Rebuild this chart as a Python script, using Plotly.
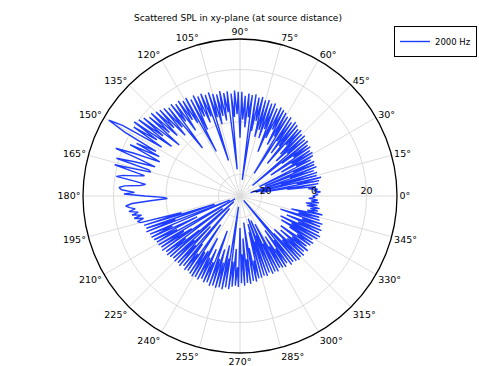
import plotly.graph_objects as go

# Angles in degrees (1 degree steps) and scattered SPL in dB
theta_deg = list(range(0, 361))

spl_0_14 = [-0.5, 1.5, 0.5, 2.5, 0.0, 1.5, -2, 1, -10, 2, -20, 2.5, -6, 3.5, -22]
spl_15_29 = [2, -12, 2.5, -24, 1.5, -8, 3, -18, 2.5, -6, 3, -20, 2, -4, 3.5]
spl_30_44 = [-10, 4, -5, 3.5, -14, 4.5, -3, 4, -8, 5, -22, 4.5, -4, 5.5, -9]
spl_45_59 = [5, -6, 6, -2, 5.5, -12, 6.5, -4, 7, -8, 6, -3, 7.5, -18, 7]
spl_60_74 = [-2, 8, -6, 8.5, 0, 9, -4, 8, -10, 9.5, -1, 9, -5, 10, -2]
spl_75_89 = [9.5, -5, 10.5, 1, 10, -3, 11, -22, 10.5, 2, 11, -2, 10, 1, 11.5]
spl_90_104 = [-6, 11.5, 3, 12, 2, 11, -18, 12, 4, 11.5, 1, 12.5, 3, 11.5, 0]
spl_105_119 = [12, 3, 13, -14, 12.5, 4, 13.5, 2, 13, 5, 14, 0, 13, -9, 14.5]
spl_120_134 = [4, 14, 6, 15, 2, 14.5, 7, 15.5, -5, 15, 6, 16, 3, 16.5, 8]
spl_135_149 = [17, 5, 18, 8, 17.5, 2, 19, 9, 20, 4, 21, 10, 20, 7, 24]
spl_150_164 = [29.5, 22, 8, 16, 6, 18, 10, 5, 15, 22.5, 12, 6, 14, 21, 8]
spl_165_179 = [7, 21, 14, 9, 12, 17, 19.5, 12, 8, 10, 16, 18, 17, 12, 16]
spl_180_194 = [8, 1, -0.5, 6, 13, 15.5, 14, 12, 14.5, 11, 13.5, 10, 13, 9.5, 12]
spl_195_209 = [11, -5, 10, -18, 9.5, -2, 10, -24, 9, 0, 9, -10, 8.5, -1, 8]
spl_210_224 = [-26, 8, -3, 7.5, -6, 8, -20, 7, -2, 7.5, -8, 7, -25, 6.5, -4]
spl_225_239 = [7, -12, 6.5, -3, 7, -22, 6, -5, 7, -1, 6.5, -15, 7, -3, 7.5]
spl_240_254 = [-4, 7, -10, 7.5, -2, 6.5, -6, 7.5, -1, 7, -14, 8, -3, 7.5, -7]
spl_255_269 = [8, -2, 7.5, -9, 8, -4, 7, -24, 7.5, -3, 6.5, -8, 6, -1, 6.5]
spl_270_284 = [-16, 5, -6, 6, -12, 5, -4, 5.5, -18, 4.5, -8, 5, -3, 4, -14]
spl_285_299 = [4, -17, 3.5, -10, 4, -19, 3, -12, 4, -18, 3.5, -8, 4, -16, 3]
spl_300_314 = [-6, 3.5, -10, 4, -4, 3, -12, 4.5, -7, 4, -26, 4.5, -9, 5, -5]
spl_315_329 = [4.5, -10, 5, -4, 4, -8, 5, -3, 3.5, -9, 4.5, -2, 5, -6, 4]
spl_330_344 = [-10, 5.5, -6, 6, -11, 5, -4, 5.5, -9, 4.5, -3, 5, -12, 3.5, -5]
spl_345_359 = [3, -8, 4, -2, 2, -1, 2.5, -2.5, 1.5, -3, 2, -1, 1.5, -2, 0.5]

spl = (spl_0_14 + spl_15_29 + spl_30_44 + spl_45_59 + spl_60_74 + spl_75_89
       + spl_90_104 + spl_105_119 + spl_120_134 + spl_135_149 + spl_150_164
       + spl_165_179 + spl_180_194 + spl_195_209 + spl_210_224 + spl_225_239
       + spl_240_254 + spl_255_269 + spl_270_284 + spl_285_299 + spl_300_314
       + spl_315_329 + spl_330_344 + spl_345_359)
spl = spl + [spl[0]]

radial_ticks = [-20, 0, 20]
series_name = "2000 Hz"
title_text = "Scattered SPL in xy-plane (at source distance)"

W, H = 479, 366
cx, cy, R = 240, 196, 157

fig = go.Figure()
fig.add_trace(go.Scatterpolar(
    r=spl, theta=theta_deg, mode="lines", name=series_name,
    line=dict(color="#1f3dff", width=1.4),
    showlegend=True,
))

fig.update_layout(
    width=W, height=H,
    margin=dict(l=0, r=0, t=0, b=0, autoexpand=False),
    paper_bgcolor="white",
    font=dict(family="DejaVu Sans", size=9, color="black"),
    title=dict(text=title_text, x=238 / W, xanchor="center",
               y=1 - 18 / H, yanchor="middle",
               font=dict(size=9, family="DejaVu Sans")),
    showlegend=True,
    legend=dict(x=477 / W, y=1 - 26 / H, xanchor="right", yanchor="top",
                bordercolor="black", borderwidth=1, bgcolor="white",
                font=dict(size=8.5, family="DejaVu Sans"),
                itemwidth=30, tracegroupgap=0),
    polar=dict(
        domain=dict(x=[(cx - R) / W, (cx + R) / W],
                    y=[(H - cy - R) / H, (H - cy + R) / H]),
        bgcolor="white",
        angularaxis=dict(
            rotation=0, direction="counterclockwise",
            tickmode="linear", tick0=0, dtick=15, ticksuffix="°",
            showline=True, linecolor="black", linewidth=1.3,
            gridcolor="#dcdcdc", gridwidth=0.8, ticks="",
            tickfont=dict(size=9.5, family="DejaVu Sans"),
        ),
        radialaxis=dict(
            range=[-28.2, 31.6], tickvals=radial_ticks, angle=0,
            side="counterclockwise", showline=False, ticks="",
            gridcolor="#dcdcdc", gridwidth=0.8,
            tickfont=dict(size=9.5, family="DejaVu Sans"),
        ),
    ),
)

fig.write_html(
    "out.html",
    config={"displayModeBar": False},
    post_script="document.body.style.margin='0';document.body.style.overflow='hidden';",
)
